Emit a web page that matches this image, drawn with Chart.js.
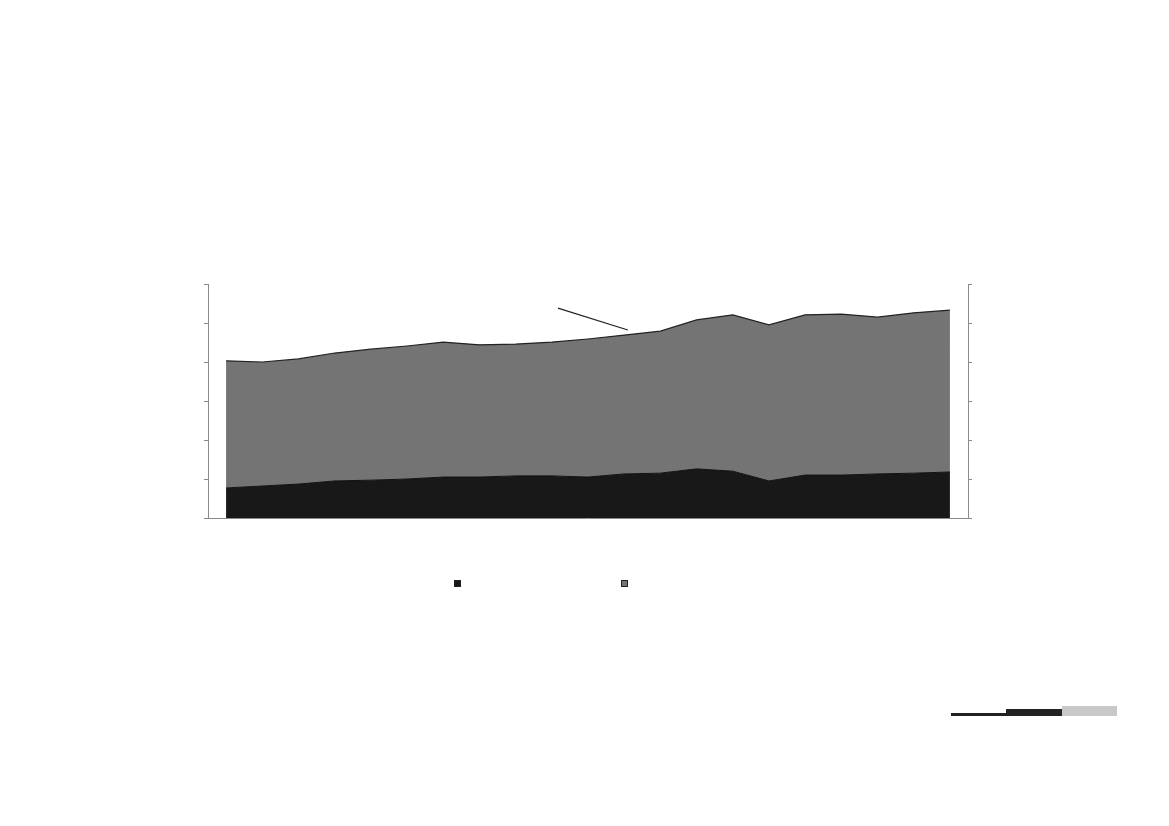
<!DOCTYPE html>
<html>
<head>
<meta charset="utf-8">
<script src="https://cdn.jsdelivr.net/npm/chart.js@4/dist/chart.umd.min.js"></script>
<style>
  body { margin: 0; background: #fff; }
  #wrap { position: relative; width: 1169px; height: 826px; }
  #chart { position: absolute; left: 0; top: 0; }
  .key { position: absolute; width: 5px; height: 5px; border: 1px solid #222; }
  .bar { position: absolute; }
</style>
</head>
<body>
<div id="wrap">
  <canvas id="chart" width="1169" height="826"></canvas>
  <div class="key" id="key0" style="left:454px; top:580px;"></div>
  <div class="key" id="key1" style="left:621px; top:580px;"></div>
  <div class="bar" style="left:951px; top:713px; width:55px; height:3px; background:#222;"></div>
  <div class="bar" style="left:1006px; top:709px; width:56px; height:7px; background:#222;"></div>
  <div class="bar" style="left:1062px; top:706px; width:55px; height:10px; background:#c8c8c8;"></div>
</div>
<script>
// 21 periods, no labels shown in the picture
const categories = Array.from({ length: 21 }, (_, i) => String(i + 1));

// lower (dark) band
const darkValues = [0.77, 0.82, 0.87, 0.95, 0.97, 1.00, 1.05, 1.05, 1.08, 1.08, 1.05,
                    1.13, 1.15, 1.26, 1.20, 0.95, 1.10, 1.10, 1.13, 1.15, 1.18];
// upper (grey) band, stacked on top of the dark one
const greyValues = [3.26, 3.18, 3.21, 3.28, 3.36, 3.41, 3.46, 3.39, 3.38, 3.43, 3.54,
                    3.56, 3.64, 3.82, 4.01, 4.00, 4.11, 4.13, 4.02, 4.11, 4.15];

const yMin = 0, yMax = 6, yStep = 1;
// leader line end points: [category index, value]
const leader = [[9.17, 5.38], [11.1, 4.82]];

const darkColor = '#181818';
const greyColor = '#747474';
const axisColor = '#8a8a8a';

document.getElementById('key0').style.background = darkColor;
document.getElementById('key1').style.background = greyColor;

const leaderLine = {
  id: 'leaderLine',
  afterDatasetsDraw(chart) {
    const { ctx, scales } = chart;
    ctx.save();
    ctx.strokeStyle = '#222';
    ctx.lineWidth = 1.2;
    ctx.beginPath();
    ctx.moveTo(scales.x.getPixelForValue(leader[0][0]), scales.y.getPixelForValue(leader[0][1]));
    ctx.lineTo(scales.x.getPixelForValue(leader[1][0]), scales.y.getPixelForValue(leader[1][1]));
    ctx.stroke();
    ctx.restore();
  }
};

const yAxis = (position) => ({
  position,
  stacked: true,
  min: yMin,
  max: yMax,
  ticks: { display: false, stepSize: yStep },
  grid: { drawOnChartArea: false, drawTicks: true, tickLength: 4, color: axisColor },
  border: { display: true, color: axisColor, width: 1 }
});

new Chart(document.getElementById('chart'), {
  type: 'line',
  data: {
    labels: categories,
    datasets: [
      {
        label: 'dark',
        data: darkValues,
        backgroundColor: darkColor,
        borderColor: '#111',
        borderWidth: 1,
        fill: 'origin',
        pointRadius: 0,
        tension: 0,
        yAxisID: 'y'
      },
      {
        label: 'grey',
        data: greyValues,
        backgroundColor: greyColor,
        borderColor: '#222',
        borderWidth: 1.2,
        fill: '-1',
        pointRadius: 0,
        tension: 0,
        yAxisID: 'y'
      }
    ]
  },
  options: {
    responsive: false,
    animation: false,
    layout: { padding: { top: 284, left: 204, right: 197, bottom: 300 } },
    plugins: { legend: { display: false }, tooltip: { enabled: false } },
    scales: {
      x: {
        offset: true,
        ticks: { display: false },
        grid: { display: false },
        border: { display: true, color: axisColor, width: 1 }
      },
      y: yAxis('left'),
      y2: yAxis('right')
    }
  },
  plugins: [leaderLine]
});
</script>
</body>
</html>
